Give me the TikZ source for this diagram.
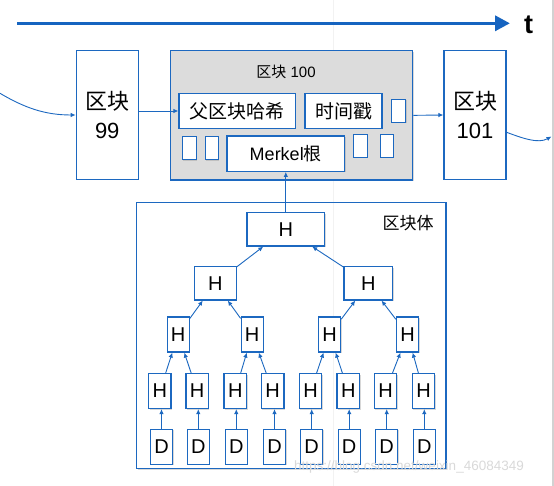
\documentclass[tikz,border=0pt]{standalone}
\usepackage{fontspec}
\setmainfont{Liberation Sans}
\newfontfamily\cjk{Noto Sans CJK SC}
\usetikzlibrary{arrows.meta,shadows}
\definecolor{myblue}{RGB}{28,104,192}
\definecolor{tlblue}{RGB}{22,100,192}
\definecolor{boxgray}{RGB}{220,220,220}
\begin{document}
\begin{tikzpicture}[x=1pt,y=-1pt,
  bx/.style={draw=myblue, line width=1.2pt, fill=white, inner sep=0pt,
    drop shadow={shadow xshift=1pt, shadow yshift=-1.2pt, opacity=0.3}},
  bigblk/.style={bx, minimum width=62pt, minimum height=128.6pt, align=center,
    font=\fontsize{22}{29.5}\selectfont},
  hdr/.style={bx, minimum height=34.6pt, font=\fontsize{19}{19}\selectfont\cjk},
  tiny/.style={bx, minimum width=14pt, minimum height=23pt},
  tn/.style={bx, minimum width=22.5pt, minimum height=35pt, font=\fontsize{20}{20}\selectfont},
  ar/.style={-{Latex[length=5pt,width=4.5pt]}, draw=myblue, line width=0.9pt},
  lbl/.style={inner sep=0pt}]
\useasboundingbox (0,0) rectangle (554,486);
% faint background lines
\draw[gray!10, line width=0.8pt] (333,0) -- (333,486);
\draw[gray!35, line width=2pt] (552.5,0) -- (552.5,486);
% timeline
\coordinate (tl0) at (17,23.3);
\coordinate (tl1) at (510,23.3);
\draw[tlblue, line width=3.5pt, -{Triangle[length=15pt,width=15pt]}] (tl0) -- (tl1);
\node[lbl, font=\fontsize{27}{27}\bfseries\selectfont] (tlab) at (528.5,25) {t};
% blocks
\node[bigblk] (b99) at (107.25,115) {{\cjk 区块}\\99};
\node[bx, fill=boxgray, minimum width=242.4pt, minimum height=129.3pt] (b100) at (291.5,115.35) {};
\node[bigblk] (b101) at (475,115) {{\cjk 区块}\\101};
\node[lbl, font=\fontsize{15}{15}\selectfont] (t100) at (286,72) {{\cjk 区块} 100};
\node[hdr, minimum width=116.4pt] (parent) at (237.2,111) {父区块哈希};
\node[hdr, minimum width=77pt] (time) at (343.5,111) {时间戳};
\node[tiny] (s1) at (398.5,110.7) {};
\node[tiny] (s2) at (189.2,148) {};
\node[tiny, minimum width=13pt] (s3) at (211.8,148) {};
\node[tiny] (s4) at (360.3,145.8) {};
\node[tiny, minimum width=13pt] (s5) at (386.7,145.8) {};
\node[bx, minimum width=117.5pt, minimum height=35.3pt, font=\fontsize{18}{18}\selectfont] (merkle) at (285.75,153.65) {Merkel{\cjk 根}};
% chain connectors
\coordinate (lin) at (0,93.3);
\draw[ar] (lin) .. controls (25,108) and (45,115) .. (b99.west);
\draw[ar] (b99.east |- parent.west) -- (parent.west);
\draw[ar] (b100.east) -- (b101.west);
\coordinate (rout) at (551.5,136.5);
\draw[ar] ([yshift=-17.3pt]b101.east) .. controls (522,138) and (538,144) .. (rout);
% block body
\node[draw=myblue, line width=1.2pt, minimum width=309.3pt, minimum height=266pt,
  drop shadow={shadow xshift=1pt, shadow yshift=-1.5pt, opacity=0.3}, fill=white] (body) at (291.35,335.3) {};
\draw[gray!10, line width=0.8pt] (333,203) -- (333,467.5);
\node[lbl, font=\fontsize{17}{17}\selectfont\cjk] (bodylab) at (408,223.5) {区块体};
% tree
\node[tn, minimum width=77.7pt, minimum height=33.3pt] (h1) at (285.8,229.3) {H};
\node[tn, minimum width=42pt, minimum height=33.3pt] (h2a) at (215.3,283.3) {H};
\node[tn, minimum width=48.7pt, minimum height=33.3pt] (h2b) at (368.3,283.3) {H};
\foreach \i/\x in {1/178.2,2/252.2,3/329.7,4/407.5}
  \node[tn, minimum width=22pt] (h3\i) at (\x,334.5) {H};
\foreach \i/\x in {1/159.8,2/197.2,3/235.3,4/272.7,5/310.5,6/348.3,7/385.5,8/423.5}
  \node[tn] (h4\i) at (\x,391) {H};
\foreach \i/\x in {1/161.5,2/198.3,3/236.3,4/274.5,5/311.7,6/349.2,7/386.7,8/424.3}
  \node[tn, minimum width=22pt] (d\i) at (\x,446.7) {D};
\foreach \i in {1,...,8}
  \draw[ar] (d\i.north) -- (d\i.north |- h4\i.south);
\foreach \i/\p in {1/1,2/1,3/2,4/2,5/3,6/3,7/4,8/4}
  \draw[ar] (h4\i) -- (h3\p);
\draw[ar] (h31) -- (h2a);
\draw[ar] (h32) -- (h2a);
\draw[ar] (h33) -- (h2b);
\draw[ar] (h34) -- (h2b);
\draw[ar] (h2a) -- (h1);
\draw[ar] (h2b) -- (h1);
\draw[ar] (h1.north) -- (h1.north |- merkle.south);
% watermark
\node[lbl, text=gray!30, font=\fontsize{13.5}{13.5}\selectfont] (wm) at (409,467.5) {https://blog.csdn.net/weixin\_46084349};
\end{tikzpicture}
\end{document}
